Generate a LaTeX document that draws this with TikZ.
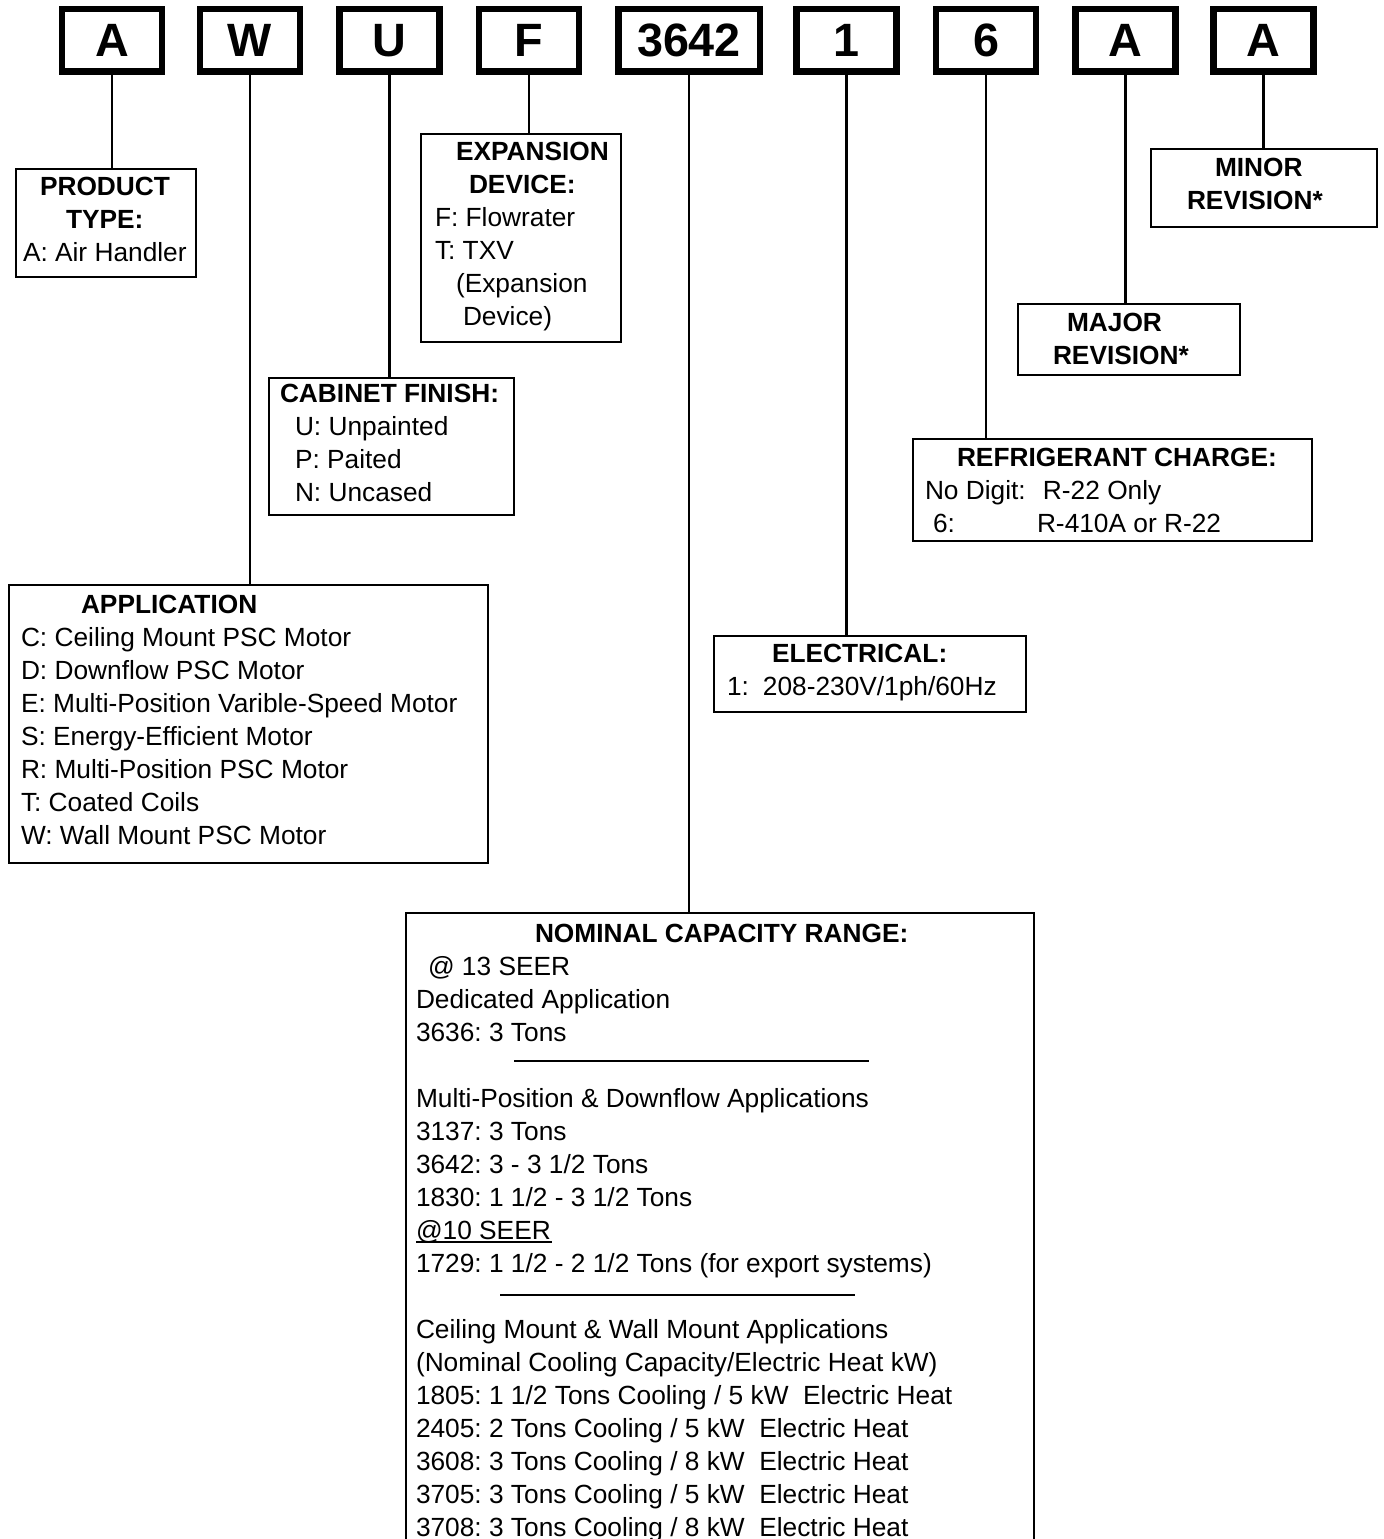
\documentclass[tikz,border=0pt]{standalone}
\usepackage{fontspec}
\setmainfont{Liberation Sans}
\usetikzlibrary{positioning}
\frenchspacing
\tikzset{
  digit/.style={draw, line width=1.85pt, minimum width=1cm, minimum height=0.625cm, inner sep=0pt, font=\fontsize{13.3}{16}\selectfont\bfseries},
  infobox/.style={draw, line width=0.6pt, anchor=north west, inner sep=0pt},
  infotext/.style={align=left, inner sep=0pt, outer sep=0pt, font=\fontsize{7.48}{9.39}\selectfont, execute at begin node=\strut},
  link/.style={line width=0.6pt}
}
\begin{document}
\begin{tikzpicture}
        \useasboundingbox (0,0) rectangle (13.84,-15.39);
        % model number digits
        \node [digit] (dA) at (1.12,-0.405) {A};
        \node [digit] (dW) at (2.50,-0.405) {W};
        \node [digit] (dU) at (3.895,-0.405) {U};
        \node [digit] (dF) at (5.29,-0.405) {F};
        \node [digit, minimum width=1.415cm] (dcap) at (6.89,-0.405) {3642};
        \node [digit] (dvolt) at (8.465,-0.405) {1};
        \node [digit] (dref) at (9.86,-0.405) {6};
        \node [digit] (dmaj) at (11.255,-0.405) {A};
        \node [digit] (dmin) at (12.635,-0.405) {A};
        % boxes
        \node [infobox, minimum width=1.80cm, minimum height=1.08cm] (ptype) at (0.15,-1.68) {};
        \node [infobox, minimum width=2.00cm, minimum height=2.08cm] (xdev) at (4.20,-1.33) {};
        \node [infobox, minimum width=2.45cm, minimum height=1.37cm] (cab) at (2.68,-3.77) {};
        \node [infobox, minimum width=4.79cm, minimum height=2.78cm] (app) at (0.08,-5.84) {};
        \node [infobox, minimum width=2.26cm, minimum height=0.78cm] (minrev) at (11.50,-1.48) {};
        \node [infobox, minimum width=2.22cm, minimum height=0.71cm] (majrev) at (10.17,-3.03) {};
        \node [infobox, minimum width=3.99cm, minimum height=1.02cm] (refchg) at (9.12,-4.38) {};
        \node [infobox, minimum width=3.12cm, minimum height=0.76cm] (elec) at (7.13,-6.35) {};
        \node [infobox, minimum width=6.28cm, minimum height=6.60cm] (cap) at (4.05,-9.12) {};
        % texts
        \node [infotext, below right=0.093cm and 0.08cm of ptype.north west] (ptypetxt)
          {\hspace*{0.17cm}\textbf{PRODUCT}\\ \hspace*{0.43cm}\textbf{TYPE:}\\ A: Air Handler};
        \node [infotext, below right=0.093cm and 0.15cm of xdev.north west] (xdevtxt)
          {\hspace*{0.21cm}\textbf{EXPANSION}\\ \hspace*{0.34cm}\textbf{DEVICE:}\\ F: Flowrater\\ T: TXV\\
           \hspace*{0.21cm}(Expansion\\ \hspace*{0.28cm}Device)};
        \node [infotext, below right=0.073cm and 0.12cm of cab.north west] (cabtxt)
          {\textbf{CABINET FINISH:}\\ \hspace*{0.15cm}U: Unpainted\\ \hspace*{0.15cm}P: Paited\\
           \hspace*{0.15cm}N: Uncased};
        \node [infotext, below right=0.113cm and 0.13cm of app.north west] (apptxt)
          {\hspace*{0.60cm}\textbf{APPLICATION}\\ C: Ceiling Mount PSC Motor\\ D: Downflow PSC Motor\\
           E: Multi-Position Varible-Speed Motor\\ S: Energy-Efficient Motor\\
           R: Multi-Position PSC Motor\\ T: Coated Coils\\ W: Wall Mount PSC Motor};
        \node [infotext, below right=0.103cm and 0.37cm of minrev.north west] (minrevtxt)
          {\hspace*{0.28cm}\textbf{MINOR}\\ \textbf{REVISION*}};
        \node [infotext, below right=0.103cm and 0.36cm of majrev.north west] (majrevtxt)
          {\hspace*{0.14cm}\textbf{MAJOR}\\ \textbf{REVISION*}};
        \node [infotext, below right=0.103cm and 0.13cm of refchg.north west] (refchgtxt)
          {\hspace*{0.32cm}\textbf{REFRIGERANT CHARGE:}\\ \makebox[1.18cm][l]{No Digit:}R-22 Only\\
           \hspace*{0.08cm}\makebox[1.04cm][l]{6:}R-410A or R-22};
        \node [infotext, below right=0.093cm and 0.14cm of elec.north west] (electxt)
          {\hspace*{0.45cm}\textbf{ELECTRICAL:}\\ 1:\hspace{0.14cm}208-230V/1ph/60Hz};
        \node [infotext, below right=0.123cm and 0.11cm of cap.north west] (captxt)
          {\hspace*{1.19cm}\textbf{NOMINAL CAPACITY RANGE:}\\
           \hspace*{0.12cm}@ 13 SEER\\
           Dedicated Application\\
           3636: 3 Tons\\
           \hspace*{0.98cm}\rule[0.122cm]{3.55cm}{0.7pt}\\
           Multi-Position \& Downflow Applications\\
           3137: 3 Tons\\
           3642: 3 - 3 1/2 Tons\\
           1830: 1 1/2 - 3 1/2 Tons\\
           \rlap{\rule[-0.03cm]{1.36cm}{0.6pt}}@10 SEER\\
           1729: 1 1/2 - 2 1/2 Tons (for export systems)\\
           \hspace*{0.84cm}\rule[0.092cm]{3.55cm}{0.7pt}\\
           Ceiling Mount \& Wall Mount Applications\\
           (Nominal Cooling Capacity/Electric Heat kW)\\
           1805: 1 1/2 Tons Cooling / 5 kW \ Electric Heat\\
           2405: 2 Tons Cooling / 5 kW \ Electric Heat\\
           3608: 3 Tons Cooling / 8 kW \ Electric Heat\\
           3705: 3 Tons Cooling / 5 kW \ Electric Heat\\
           3708: 3 Tons Cooling / 8 kW \ Electric Heat};
        % connectors
        \draw [link] (dA.south) -- (dA.south |- ptype.north);
        \draw [link] (dW.south) -- (dW.south |- app.north);
        \draw [link] (dU.south) -- (dU.south |- cab.north);
        \draw [link] (dF.south) -- (dF.south |- xdev.north);
        \draw [link] (dcap.south) -- (dcap.south |- cap.north);
        \draw [link] (dvolt.south) -- (dvolt.south |- elec.north);
        \draw [link] (dref.south) -- (dref.south |- refchg.north);
        \draw [link] (dmaj.south) -- (dmaj.south |- majrev.north);
        \draw [link] (dmin.south) -- (dmin.south |- minrev.north);
\end{tikzpicture}
\end{document}
